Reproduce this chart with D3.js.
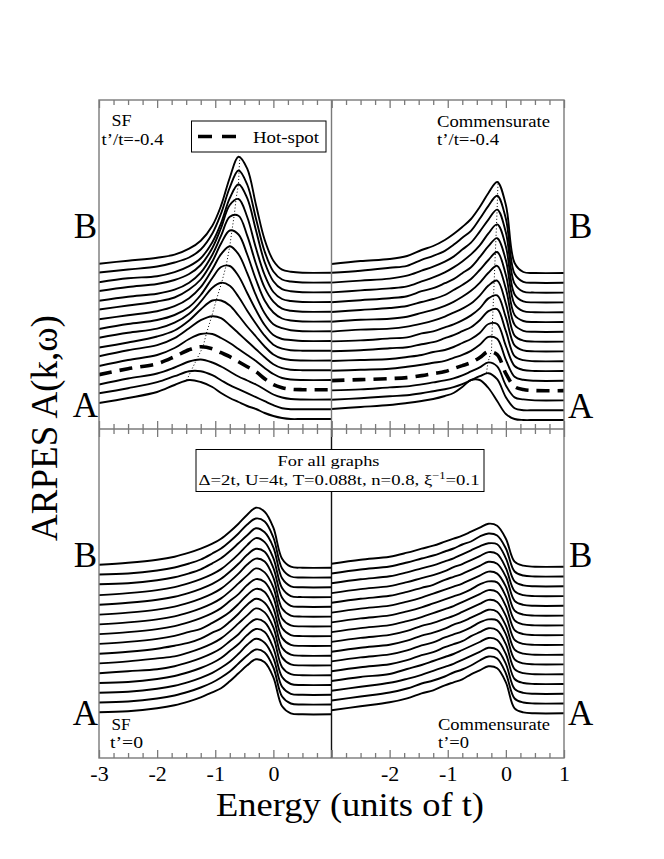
<!DOCTYPE html>
<html><head><meta charset="utf-8">
<script src="https://cdn.jsdelivr.net/npm/d3@7"></script>
<style>
html,body{margin:0;padding:0;background:#fff;}
svg{display:block;}
</style></head><body>
<svg id="chart" width="664" height="859"></svg>
<script>
// ---------------- DATA ----------------
const energyGrid = [-3,-2.5,-2,-1.7,-1.45,-1.25,-1.05,-0.9,-0.75,-0.6,-0.45,-0.3,-0.15,0,0.15,0.3,0.5,1];

// Spectra, curve 0 = A (bottom) ... curve 15 = B (top); values in arbitrary units above each curve's offset
const tlSpectra = [
 [16,21,27,34,39,37,32,26,21,17,13,10,6,3,1,0,0,0],
 [16,21,27,33,38,38,34,29,24,20,16,12,8,4,1,0,0,0],
 [15,21,26,32,38,40,37,33,28,23,19,15,10,5,2,0.5,0,0],
 [15,21,26,33,40,43,41,37,33,28,23,18,11,5,2,0.5,0,0],
 [14,20,25,32,41,46,46,42,37,31,25,19,12,6,2,0.5,0,0],
 [14,20,25,32,42,50,54,52,45,37,29,21,13,6,2,0.5,0,0],
 [13,18,24,30,40,51,60,60,55,45,34,24,14,6,2,0.5,0,0],
 [13,18,22,28,37,49,63,68,65,54,40,27,15,6,2,0.5,0,0],
 [12,17,21,26,34,46,63,74,75,65,48,31,16,6,2,1,0,0],
 [12,16,20,25,33,44,62,77,85,77,58,36,18,7,3,1,0,0],
 [12,16,20,24,32,42,60,78,91,87,67,42,21,9,3,1,0,0],
 [11,15,18,22,29,39,57,76,95,96,76,48,24,10,3,1,0,0],
 [11,15,18,22,28,37,54,74,97,103,85,54,27,10,3,1,0,0],
 [10,14,16,20,26,34,50,69,94,108,94,62,30,11,3,1,0,0],
 [10,13,16,20,25,33,49,69,95,112,98,64,31,11,3,1,0,0],
 [9,12,15,18,24,32,47,67,95,116,104,68,33,12,3,1,0,0]
];
const trSpectra = [
 [11,13,15,17,19,21,24,27,33,40,40,32,19,6,1,0,0,0],
 [10.5,12,14,15,17,19,21,23,26,30,34,37,31,13,2,0,0,0],
 [10,11,13,14,16,18,20,22,25,29,33,38,34,15,3,1,0,0],
 [10,11,12,13,15,17,19,22,25,28,33,39,36,17,4,1,0,0],
 [10,11,12,14,16,18,20,23,26,30,36,44,42,21,4,1,0,0],
 [10,11,12,14,16,19,21,24,28,32,38,47,47,25,5,1,0,0],
 [10,11,13,14,17,19,23,26,30,34,41,50,52,30,5,1,0,0],
 [10,11,13,14,18,20,24,27,31,36,43,53,56,34,6,1,0,0],
 [10,12,13,15,18,21,25,29,33,38,46,56,61,38,6,1,0,0],
 [10,12,13,15,19,22,26,30,35,41,49,59,66,43,7,1,0,0],
 [10,12,14,16,20,23,27,32,37,43,52,62,70,47,7,1,0,0],
 [10,12,14,16,21,24,29,33,39,45,55,66,74,52,8,1,0,0],
 [10,12,14,16,21,25,30,35,41,48,57,69,78,56,8,1,0,0],
 [10,12,14,17,22,26,31,36,43,50,61,73,83,60,9,1,0,0],
 [10,12,15,17,23,27,32,38,45,52,64,77,87,64,9,1,0,0],
 [9,12,14,17,23,27,33,39,46,54,66,80,91,68,10,1,0,0]
];
const blSpectra = [
 [2,3,6,9,13,17,22,26,33,41,49,55,52,37,8,1,0,0],
 [2,3,6,9,13,17,22,27,33,41,49,55,52,37,8,1,0,0],
 [2,3,6,9,13,17,22,27,33,41,50,56,52,37,8,1,0,0],
 [2,3,6,9,13,17,22,27,34,41,50,56,53,37,8,1,0,0],
 [2,4,6,9,13,17,22,27,34,41,50,56,53,38,8,1,0,0],
 [2,4,7,9,13,17,22,27,34,42,50,57,53,38,8,1,0,0],
 [2,4,7,10,13,17,23,27,34,42,51,57,53,38,8,1,0,0],
 [2,4,7,10,14,17,23,28,34,42,51,57,54,38,8,1,0,0],
 [2,4,7,10,14,18,23,28,35,42,51,57,54,39,8,1,0,0],
 [2,4,7,10,14,18,23,28,35,43,51,58,54,39,8,1,0,0],
 [2,4,7,10,14,18,23,28,35,43,52,58,55,39,8,1,0,0],
 [2,4,7,10,14,18,23,28,35,43,52,58,55,39,9,1,0,0],
 [2,4,7,10,14,18,23,28,35,43,52,59,55,39,9,1,0,0],
 [3,4,7,10,14,18,24,29,36,44,52,59,55,40,9,1,0,0],
 [3,4,7,10,14,18,24,29,36,44,53,59,56,40,9,1,0,0],
 [3,5,8,11,15,19,24,29,36,44,53,60,56,40,9,1,0,0]
];
const brSpectra = [
 [3,7,11,15,20,23,28,31,34,39,43,47,45,31,5,1,0,0],
 [3,7,11,15,20,23,27,31,34,38,43,47,45,30,5,1,0,0],
 [3,7,11,15,19,23,27,30,34,38,42,46,44,30,5,1,0,0],
 [3,7,10,15,19,23,27,30,34,38,42,46,44,30,5,1,0,0],
 [3,7,10,14,19,22,27,30,33,38,42,46,44,30,5,1,0,0],
 [3,7,10,14,19,22,27,30,33,37,42,45,44,30,5,1,0,0],
 [3,7,10,14,19,22,26,30,33,37,41,45,43,29,5,1,0,0],
 [3,7,10,14,19,22,26,29,33,37,41,45,43,29,5,1,0,0],
 [3,7,10,14,18,22,26,29,33,37,41,45,43,29,5,1,0,0],
 [3,7,10,14,18,22,26,29,32,36,41,44,43,29,5,1,0,0],
 [3,7,10,14,18,22,26,29,32,36,40,44,42,29,5,1,0,0],
 [3,7,10,14,18,21,26,29,32,36,40,44,42,29,5,1,0,0],
 [3,7,10,14,18,21,25,29,32,36,40,44,42,28,5,1,0,0],
 [3,7,10,14,18,21,25,28,32,36,40,43,42,28,5,1,0,0],
 [3,7,10,14,18,21,25,28,32,35,40,43,41,28,5,1,0,0],
 [3,7,10,14,18,21,25,28,31,35,39,43,41,28,5,1,0,0]
];

// vertical offsets of the 16 spectra (same units)
const tlOffsets = [10,19.8,29.5,39.3,49,58.8,68.5,78.3,88,97.8,107.5,117.3,127,136.8,146.5,156.3];
const trOffsets = [9,18.8,28.6,38.4,48.2,58,67.8,77.6,87.4,97.2,107,116.8,126.6,136.4,146.2,156];
const blOffsets = [43.7,53.5,63.2,73,82.8,92.6,102.3,112.1,121.9,131.6,141.4,151.2,160.9,170.7,180.5,190.3];
const brOffsets = [44.7,54.5,64.2,74,83.8,93.6,103.3,113.1,122.9,132.6,142.4,152.2,161.9,171.7,181.5,191.3];

// peak positions (dotted guide lines)
const tlPeakE = [-1.49,-1.41,-1.32,-1.21,-1.15,-1.06,-0.98,-0.89,-0.81,-0.75,-0.71,-0.67,-0.64,-0.6,-0.59,-0.577];
const tlPeakI = [39,39,40,43,47,54,61,68,76,85,92,98,104,108,112,116];
const trPeakE = [-0.334,-0.306,-0.247,-0.24,-0.23,-0.22,-0.21,-0.2,-0.19,-0.18,-0.17,-0.16,-0.15,-0.143,-0.134];
const trPeakI = [37.5,38.5,40,45,49,54,58,62,67,71,75,79,84,88,92];
const trPeakIdx = [1,2,3,4,5,6,7,8,9,10,11,12,13,14,15];

const hotSpotIndex = 3;
const leftTicks = [-3,-2,-1,0];
const rightTicks = [-2,-1,0,1];
const majorTicks = [-3,-2,-1,0,1];
const minorTicks = [-2.75,-2.5,-2.25,-1.75,-1.5,-1.25,-0.75,-0.5,-0.25,0.25,0.5,0.75];

// ---------------- LAYOUT ----------------
const FONT = '"Liberation Serif","Times New Roman",Times,serif';
const fr = {left:99, mid:331.5, right:564, top:100, midY:429, bottom:758};
const svg = d3.select('#chart');
svg.append('rect').attr('width',664).attr('height',859).attr('fill','#fff');

const panels = [
 {id:'tl', xr:[fr.left,fr.mid], yr:[fr.midY,fr.top], spectra:tlSpectra, offsets:tlOffsets, hot:true},
 {id:'tr', xr:[fr.mid,fr.right], yr:[fr.midY,fr.top], spectra:trSpectra, offsets:trOffsets, hot:true},
 {id:'bl', xr:[fr.left,fr.mid], yr:[fr.bottom,fr.midY], spectra:blSpectra, offsets:blOffsets, hot:false},
 {id:'br', xr:[fr.mid,fr.right], yr:[fr.bottom,fr.midY], spectra:brSpectra, offsets:brOffsets, hot:false}
];

const defs = svg.append('defs');
panels.forEach(p => {
  p.x = d3.scaleLinear().domain([-3,1]).range(p.xr);
  p.y = d3.scaleLinear().domain([0,329]).range(p.yr);
  defs.append('clipPath').attr('id','clip-'+p.id).append('rect')
    .attr('x',p.xr[0]).attr('y',p.yr[1]).attr('width',p.xr[1]-p.xr[0]).attr('height',p.yr[0]-p.yr[1]);
});

panels.forEach(p => {
  const g = svg.append('g').attr('clip-path','url(#clip-'+p.id+')');
  p.spectra.forEach((row,i) => {
    const off = p.offsets[i];
    const line = d3.line()
      .x((v,k) => p.x(energyGrid[k]))
      .y(v => p.y(off + v))
      .curve(d3.curveCatmullRom.alpha(0.5));
    const isHot = p.hot && i === hotSpotIndex;
    g.append('path').attr('d', line(row))
      .attr('fill','none').attr('stroke','#000')
      .attr('stroke-width', isHot ? 3.6 : 1.9)
      .attr('stroke-dasharray', isHot ? '13,8' : null)
      .attr('stroke-linejoin','round');
  });
});

// dotted peak guides
(function(){
  const p = panels[0];
  const pts = tlPeakE.map((e,i)=>[p.x(e), p.y(tlOffsets[i]+tlPeakI[i])]);
  svg.append('path').attr('d', d3.line()(pts)).attr('fill','none')
    .attr('stroke','#000').attr('stroke-width',1).attr('stroke-dasharray','1,2.2');
  const q = panels[1];
  const pts2 = trPeakE.map((e,i)=>[q.x(e), q.y(trOffsets[trPeakIdx[i]]+trPeakI[i])]);
  svg.append('path').attr('d', d3.line()(pts2)).attr('fill','none')
    .attr('stroke','#000').attr('stroke-width',1).attr('stroke-dasharray','1,2.2');
})();

// frame
const frameColor = '#7a7a7a';
svg.append('rect').attr('x',fr.left).attr('y',fr.top).attr('width',fr.right-fr.left).attr('height',fr.bottom-fr.top)
  .attr('fill','none').attr('stroke',frameColor).attr('stroke-width',1.4);
svg.append('line').attr('x1',fr.left).attr('x2',fr.right).attr('y1',fr.midY).attr('y2',fr.midY)
  .attr('stroke',frameColor).attr('stroke-width',1.4);
svg.append('line').attr('x1',fr.mid).attr('x2',fr.mid).attr('y1',fr.top).attr('y2',fr.midY)
  .attr('stroke',frameColor).attr('stroke-width',1.4);
svg.append('line').attr('x1',fr.mid).attr('x2',fr.mid).attr('y1',fr.midY).attr('y2',fr.bottom)
  .attr('stroke','#111').attr('stroke-width',1.4);

// ticks
function tickRow(p, yPos, down){
  const mk = down ? d3.axisBottom : d3.axisTop;
  [[majorTicks,8],[minorTicks,5]].forEach(([vals,len]) => {
    const ax = mk(p.x).tickValues(vals).tickSize(len).tickFormat('');
    const g = svg.append('g').attr('transform','translate(0,'+yPos+')').call(ax);
    g.select('.domain').remove();
    g.selectAll('line').attr('stroke',frameColor).attr('stroke-width',1.3);
  });
}
panels.forEach(p => {
  tickRow(p, p.yr[1], true);
  tickRow(p, p.yr[0], false);
});

// tick labels
[[panels[2],leftTicks],[panels[3],rightTicks]].forEach(([p,vals]) => {
  const ax = d3.axisBottom(p.x).tickValues(vals).tickSize(0).tickPadding(7).tickFormat(d => String(d));
  const g = svg.append('g').attr('transform','translate(0,'+fr.bottom+')').call(ax);
  g.select('.domain').remove();
  g.attr('font-family',FONT).attr('font-size',22);
  g.selectAll('text').attr('fill','#000');
});

// axis titles
svg.append('text').attr('x',350).attr('y',816).attr('text-anchor','middle')
  .attr('font-family',FONT).attr('font-size',33)
  .attr('textLength',268).attr('lengthAdjust','spacingAndGlyphs').text('Energy (units of t)');
svg.append('text').attr('transform','translate(57,428) rotate(-90)').attr('text-anchor','middle')
  .attr('font-family',FONT).attr('font-size',37).text('ARPES A(k,\u03C9)');

// A / B labels
const abLabels = [
  {t:'B', x:97, y:238, a:'end'}, {t:'A', x:98, y:417, a:'end'},
  {t:'B', x:97, y:567, a:'end'}, {t:'A', x:98, y:725, a:'end'},
  {t:'B', x:569, y:238, a:'start'}, {t:'A', x:568, y:418, a:'start'},
  {t:'B', x:569, y:567, a:'start'}, {t:'A', x:568, y:725, a:'start'}
];
abLabels.forEach(d => svg.append('text').attr('x',d.x).attr('y',d.y).attr('text-anchor',d.a)
  .attr('font-family',FONT).attr('font-size',35).text(d.t));

// panel annotations (widths matched to the reference lettering)
const notes = [
  {t:'SF', x:111.5, y:126, w:20}, {t:'t\u2019/t=-0.4', x:101.5, y:144.5, w:62},
  {t:'Commensurate', x:437, y:126.5, w:113}, {t:'t\u2019/t=-0.4', x:437, y:145, w:62},
  {t:'SF', x:111.5, y:729.5, w:19}, {t:'t\u2019=0', x:110, y:748, w:33},
  {t:'Commensurate', x:438, y:729.5, w:112}, {t:'t\u2019=0', x:438, y:748, w:31}
];
notes.forEach(d => svg.append('text').attr('x',d.x).attr('y',d.y)
  .attr('font-family',FONT).attr('font-size',16)
  .attr('textLength',d.w).attr('lengthAdjust','spacingAndGlyphs').text(d.t));

// legend
svg.append('rect').attr('x',191.5).attr('y',121).attr('width',134.5).attr('height',31)
  .attr('fill','#fff').attr('stroke','#000').attr('stroke-width',1);
svg.append('line').attr('x1',198).attr('x2',243).attr('y1',136.5).attr('y2',136.5)
  .attr('stroke','#000').attr('stroke-width',3.6).attr('stroke-dasharray','14,10');
svg.append('text').attr('x',253).attr('y',143).attr('font-family',FONT).attr('font-size',17)
  .attr('textLength',66).attr('lengthAdjust','spacingAndGlyphs').text('Hot-spot');

// parameter box
svg.append('rect').attr('x',196).attr('y',449.5).attr('width',288).attr('height',42)
  .attr('fill','#fff').attr('stroke','#000').attr('stroke-width',1);
svg.append('text').attr('x',277.5).attr('y',466)
  .attr('font-family',FONT).attr('font-size',15)
  .attr('textLength',102).attr('lengthAdjust','spacingAndGlyphs').text('For all graphs');
const t2 = svg.append('text').attr('x',198.5).attr('y',484.5)
  .attr('font-family',FONT).attr('font-size',15)
  .attr('textLength',281).attr('lengthAdjust','spacingAndGlyphs');
t2.append('tspan').text('\u0394=2t, U=4t, T=0.088t, n=0.8, \u03BE');
t2.append('tspan').attr('dy',-6).attr('font-size',10).text('\u22121');
t2.append('tspan').attr('dy',6).text('=0.1');
</script>
</body></html>
